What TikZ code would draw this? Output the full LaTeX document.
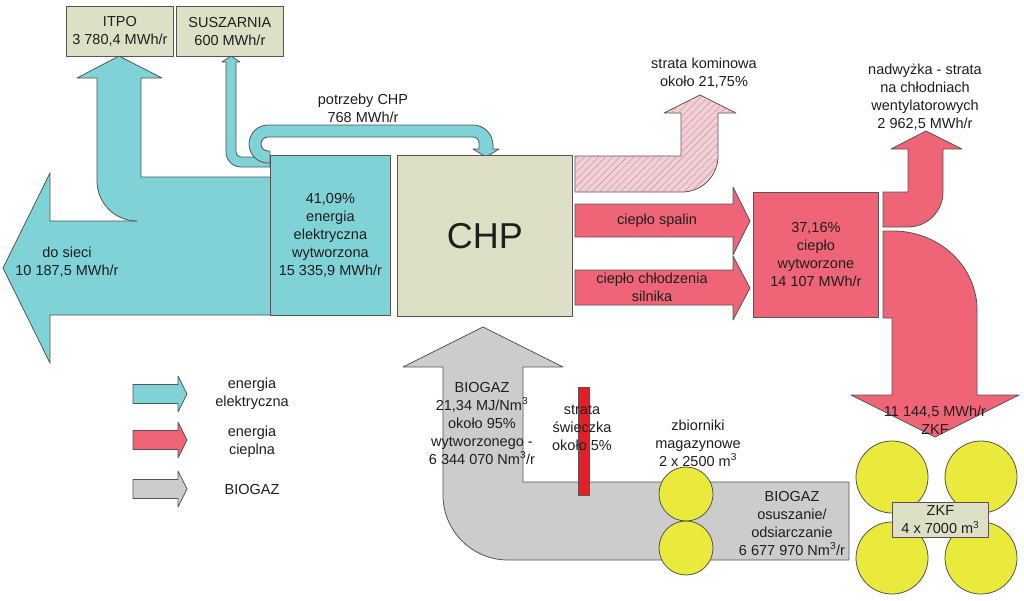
\documentclass[tikz,border=0pt]{standalone}
\usepackage{fontspec}
\setmainfont{Liberation Sans}
\usetikzlibrary{patterns.meta}
\definecolor{tealc}{RGB}{127,210,214}
\definecolor{heatc}{RGB}{240,100,120}
\definecolor{gasc}{RGB}{204,204,204}
\definecolor{beigec}{RGB}{221,224,197}
\definecolor{yelc}{RGB}{234,234,60}
\definecolor{hatchf}{RGB}{240,208,213}
\definecolor{hatchl}{RGB}{215,150,160}
\definecolor{barc}{RGB}{228,30,40}
\definecolor{bdc}{RGB}{85,85,85}
\definecolor{txtc}{RGB}{30,30,30}
\begin{document}
\begin{tikzpicture}[x=1pt,y=-1pt,
  bd/.style={draw=bdc, line width=0.8pt, line join=round},
  txt/.style={align=center, font=\fontsize{14.5}{18}\selectfont, text=txtc, inner sep=0pt},
  box/.style={bd, rectangle, inner sep=0pt, anchor=north west, align=center, font=\fontsize{14.5}{18}\selectfont, text=txtc},
  tank/.style={bd, circle, fill=yelc, inner sep=0pt},
  legarr/.pic={\path[pic actions] (0,-9.5) -- (45,-9.5) -- (45,-18) -- (54,0) -- (45,18) -- (45,9.5) -- (0,9.5) -- cycle;}
]
\useasboundingbox (0,0) rectangle (1024,600);

% --- electric energy arrows ---
\fill[tealc] (270,221) -- (50,221) -- (50,173) -- (3,268) -- (50,363) -- (50,315) -- (270,315) -- cycle;
\draw[bd] (137,221) -- (50,221) -- (50,173) -- (3,268) -- (50,363) -- (50,315) -- (270,315);

\fill[tealc] (270,177) -- (141,177) -- (141,78) -- (162,78) -- (119,56) -- (77,78) -- (97,78) -- (97,181) .. controls (97,203.1) and (114.9,221) .. (137,221) -- (270,221) -- cycle;
\draw[bd] (270,177) -- (141,177) -- (141,78) -- (162,78) -- (119,56) -- (77,78) -- (97,78) -- (97,181) .. controls (97,203.1) and (114.9,221) .. (137,221);

\path[bd, fill=tealc] (270,157) -- (241,157) .. controls (238.2,157) and (236,154.8) .. (236,152) -- (236,62) -- (240,62) -- (231,56) -- (222,62) -- (226,62) -- (226,152) .. controls (226,160.3) and (232.7,167) .. (241,167) -- (270,167) -- cycle;

\path[bd, fill=tealc] (270,163) -- (268,163) .. controls (257.5,163) and (249,154.5) .. (249,144) .. controls (249,133.5) and (257.5,125) .. (268,125) -- (473,125) .. controls (484,125) and (493,134) .. (493,145) -- (493,149) -- (499,149) -- (486,157) -- (473,149) -- (479,149) -- (479,143) .. controls (479,139.7) and (476.3,137) .. (473,137) -- (268,137) .. controls (264.1,137) and (261,140.1) .. (261,144) .. controls (261,147.9) and (264.1,151) .. (268,151) -- (270,151) -- cycle;

% --- boxes ---
\node[box, fill=beigec, minimum width=107, minimum height=50] (itpo) at (66,6) {ITPO\\3 780,4 MWh/r};
\node[box, fill=beigec, minimum width=107, minimum height=50] (susz) at (176,6) {SUSZARNIA\\600 MWh/r};
\node[box, fill=tealc, minimum width=120, minimum height=160] (elec) at (270,155) {41,09\%\\energia\\elektryczna\\wytworzona\\15 335,9 MWh/r};
\node[box, fill=beigec, minimum width=175, minimum height=161, font=\fontsize{36}{40}\selectfont] (chp) at (397,155) {CHP};

% --- heat arrows ---
\path[bd, fill=hatchf, postaction={pattern={Lines[angle=45,distance=5pt,line width=0.6pt]}, pattern color=hatchl}] (575,156) -- (681,156) -- (681,113) -- (664,113) -- (700,95) -- (736,113) -- (718,113) -- (718,156) .. controls (718,175.9) and (701.9,192) .. (682,192) -- (575,192) -- cycle;
\path[bd, fill=heatc] (575,204) -- (733,204) -- (733,187) -- (750,221) -- (733,255) -- (733,237) -- (575,237) -- cycle;
\path[bd, fill=heatc] (575,270) -- (733,270) -- (733,256) -- (750,288) -- (733,320) -- (733,305) -- (575,305) -- cycle;

\node[box, fill=heatc, minimum width=125, minimum height=125] (heat) at (753,192) {37,16\%\\ciepło\\wytworzone\\14 107 MWh/r};

\path[bd, fill=heatc] (883,192) -- (908,192) -- (908,149) -- (891,149) -- (926,131) -- (962,149) -- (943,149) -- (943,192) .. controls (943,211.3) and (927.3,227) .. (908,227) -- (883,227) -- cycle;
\path[bd, fill=heatc] (883,231) -- (893,231) .. controls (939.4,231) and (977,266.4) .. (977,310) -- (977,395) -- (1019,395) -- (935,437) -- (851,395) -- (892,395) -- (892,318) -- (883,318) -- cycle;

% --- biogas ---
\path[bd, fill=gasc] (849,482) -- (523,482) -- (523,367) -- (563,367) -- (483,327) -- (403,367) -- (443,367) -- (443,495) .. controls (443,530.9) and (472.1,560) .. (508,560) -- (849,560) -- cycle;
\node[bd, rectangle, fill=barc, minimum width=11, minimum height=108, inner sep=0pt, anchor=north west] (bar) at (578,387) {};
\node[tank, minimum size=54] (t1) at (686,494) {};
\node[tank, minimum size=54] (t2) at (686,548) {};

\node[tank, minimum size=72] (z1) at (892,477) {};
\node[tank, minimum size=72] (z2) at (981,477) {};
\node[tank, minimum size=72] (z3) at (892,558) {};
\node[tank, minimum size=72] (z4) at (981,558) {};
\node[box, fill=beigec, minimum width=96, minimum height=35] (zkfbox) at (892,502) {ZKF\\4 x 7000 m\textsuperscript{3}};

% --- labels ---
\node[txt] (potrz) at (363,108) {potrzeby CHP\\768 MWh/r};
\node[txt] (dosieci) at (67,262) {do sieci\\10 187,5 MWh/r};
\node[txt] (komin) at (704,73) {strata kominowa\\około 21,75\%};
\node[txt] (nadw) at (925,97) {nadwyżka - strata\\na chłodniach\\wentylatorowych\\2 962,5 MWh/r};
\node[txt] (spalin) at (657,221) {ciepło spalin};
\node[txt] (chlodz) at (652,287) {ciepło chłodzenia\\silnika};
\node[txt] (zkfin) at (935,420) {11 144,5 MWh/r\\ZKF};
\node[txt] (zbior) at (698,443) {zbiorniki\\magazynowe\\2 x 2500 m\textsuperscript{3}};
\node[txt] (gas) at (792,523) {BIOGAZ\\osuszanie/\\odsiarczanie\\6 677 970 Nm\textsuperscript{3}/r};
\node[txt] (biogaz) at (482,423) {BIOGAZ\\21,34 MJ/Nm\textsuperscript{3}\\około 95\%\\wytworzonego -\\6 344 070 Nm\textsuperscript{3}/r};
\node[txt] (swiecz) at (582,428) {strata\\świeczka\\około 5\%};

% --- legend ---
\pic[bd, fill=tealc] at (133,394) {legarr};
\pic[bd, fill=heatc] at (133,440) {legarr};
\pic[bd, fill=gasc] at (133,489) {legarr};
\node[txt] (lg1) at (252,394) {energia\\elektryczna};
\node[txt] (lg2) at (252,442) {energia\\cieplna};
\node[txt] (lg3) at (252,489) {BIOGAZ};
\end{tikzpicture}
\end{document}
